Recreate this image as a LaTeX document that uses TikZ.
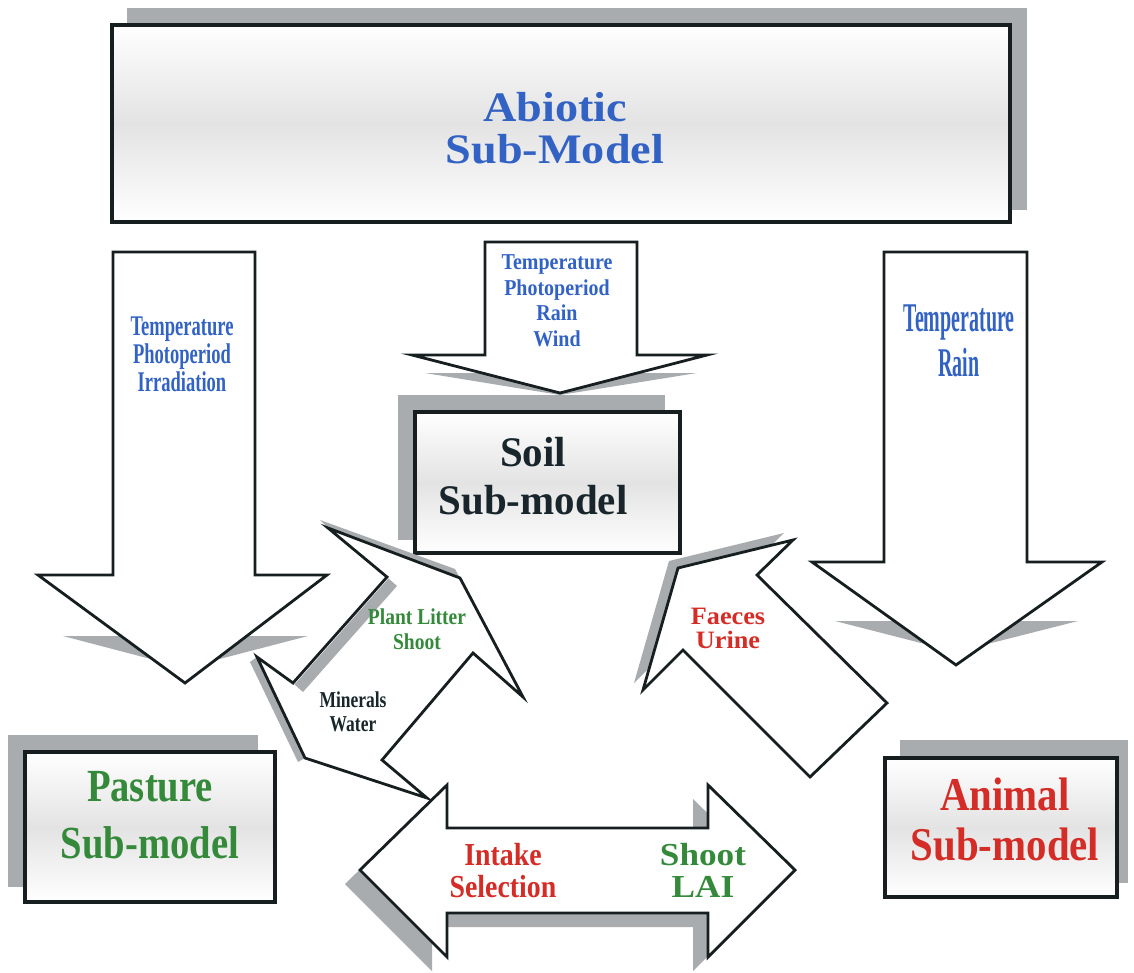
\documentclass[tikz,border=0pt]{standalone}
\usepackage{fontspec}
\setmainfont{Liberation Serif}
\usepackage{graphicx}
\definecolor{edge}{RGB}{22,30,32}
\definecolor{shadowgray}{RGB}{168,172,175}
\definecolor{abioblue}{RGB}{50,98,196}
\definecolor{pastgreen}{RGB}{52,138,58}
\definecolor{animred}{RGB}{212,44,38}
\definecolor{soildark}{RGB}{24,38,44}
% squeezed bold text: xscale, yscale, size, baselineskip, lines
\newcommand{\lbl}[5]{\scalebox{#1}[#2]{\fontsize{#3}{#4}\selectfont\bfseries\begin{tabular}{@{}c@{}}#5\end{tabular}}}
\tikzset{
  submodel/.style={draw=edge, line width=4pt, top color=white, bottom color=white, middle color=gray!22, inner sep=0pt},
  boxshade/.style={fill=shadowgray, draw=none},
  blockarrow/.style={draw=edge, line width=2.8pt, fill=white, line join=miter},
  boxtext/.style={inner sep=0pt}
}
\begin{document}
\begin{tikzpicture}[x=1pt,y=-1pt]
\useasboundingbox[fill=white] (0,0) rectangle (1134,973);
% shadows of the sub-models
\fill[boxshade] (127,8) rectangle (1027,210);
\fill[boxshade] (398,395) rectangle (665,540);
\fill[boxshade] (8,735) rectangle (258,887);
\fill[boxshade] (900,740) rectangle (1128,883);
% sub-model boxes
\node[submodel, minimum width=898pt, minimum height=197pt] (abiotic) at (561,123.5) {};
\node[submodel, minimum width=265pt, minimum height=141pt] (soil) at (547.5,482.5) {};
\node[submodel, minimum width=250pt, minimum height=150pt] (pasture) at (150,827) {};
\node[submodel, minimum width=232pt, minimum height=139pt] (animal) at (1001,827.5) {};

% arrows from the abiotic sub-model
\fill[shadowgray] (63,636) -- (308,636) -- (185,668) -- cycle;
\draw[blockarrow] (113,252) -- (255,252) -- (255,575) -- (327,575) -- (185,683) -- (38,575) -- (113,575) -- cycle;
\fill[shadowgray] (425,373) -- (697,373) -- (560,395) -- cycle;
\draw[blockarrow] (485,242) -- (637,242) -- (637,355) -- (707,355) -- (560,393) -- (412,355) -- (485,355) -- cycle;
\fill[shadowgray] (835,621) -- (1078,621) -- (956,652) -- cycle;
\draw[blockarrow] (884,252) -- (1027,252) -- (1027,562) -- (1102,562) -- (956,665) -- (812,562) -- (884,562) -- cycle;

% pasture <-> soil
\fill[shadowgray] (320,520) -- (455,569) -- (460,578) -- (328,528) -- cycle;
\fill[shadowgray] (250,662) -- (298,762) -- (305,758) -- (257,657) -- cycle;
\draw[blockarrow] (460,578) -- (523,697) -- (473,653) -- (382,760) -- (427,798) -- (305,758) -- (257,657) -- (293,683) -- (387,577) -- (328,528) -- cycle;
\fill[shadowgray] (388.5,578.5) -- (294.5,684.5) -- (303,692) -- (397,586) -- cycle;

% animal -> soil
\fill[shadowgray] (669,561) -- (784,533) -- (748,568) -- (878,696) -- (801,770) -- (674,643) -- (634,683) -- cycle;
\draw[blockarrow] (678,568) -- (793,540) -- (757,575) -- (887,703) -- (810,777) -- (683,650) -- (643,690) -- cycle;

% pasture <-> animal
\fill[shadowgray] (345,884) -- (432,799) -- (432,842) -- (693,842) -- (693,799) -- (780,884) -- (693,971) -- (693,927) -- (432,927) -- (432,971) -- cycle;
\draw[blockarrow] (360,870) -- (447,785) -- (447,828) -- (708,828) -- (708,785) -- (795,870) -- (708,957) -- (708,913) -- (447,913) -- (447,957) -- cycle;

% texts
\node[boxtext, text=abioblue] (abiotictext) at (555,134) {\lbl{1.1}{1}{42}{41}{Abiotic\\Sub-Model}};
\node[boxtext, text=soildark] (soiltext) at (533,481) {\lbl{1.05}{1.08}{39}{44}{Soil\\Sub-model}};
\node[boxtext, text=pastgreen] (pasturetext) at (150,819) {\lbl{0.84}{1}{46}{57}{Pasture\\Sub-model}};
\node[boxtext, text=animred] (animaltext) at (1005,825) {\lbl{0.87}{1}{47}{50}{Animal\\Sub-model}};
\node[boxtext, text=abioblue] (pastureinput) at (182,358) {\lbl{0.65}{1}{28.5}{26.5}{Temperature\\Photoperiod\\Irradiation}};
\node[boxtext, text=abioblue] (soilinput) at (557,303) {\lbl{0.88}{1}{22.7}{25.7}{Temperature\\Photoperiod\\Rain\\Wind}};
\node[boxtext, text=abioblue] (animalinput) at (959,345) {\lbl{0.49}{1}{40.8}{45}{Temperature\\Rain}};
\node[boxtext, text=pastgreen] (littertext) at (417,632) {\lbl{0.86}{1}{22.7}{25}{Plant Litter\\Shoot}};
\node[boxtext, text=soildark] (mineraltext) at (353,715) {\lbl{0.77}{1}{22.7}{24}{Minerals\\Water}};
\node[boxtext, text=animred] (faecestext) at (728,632) {\lbl{1.05}{1}{25}{23}{Faeces\\Urine}};
\node[boxtext, text=animred] (intaketext) at (503,875) {\lbl{0.87}{1}{32}{32}{Intake\\Selection}};
\node[boxtext, text=pastgreen] (shoottext) at (703,875) {\lbl{1.1}{1}{32}{32}{Shoot\\LAI}};
\end{tikzpicture}
\end{document}
